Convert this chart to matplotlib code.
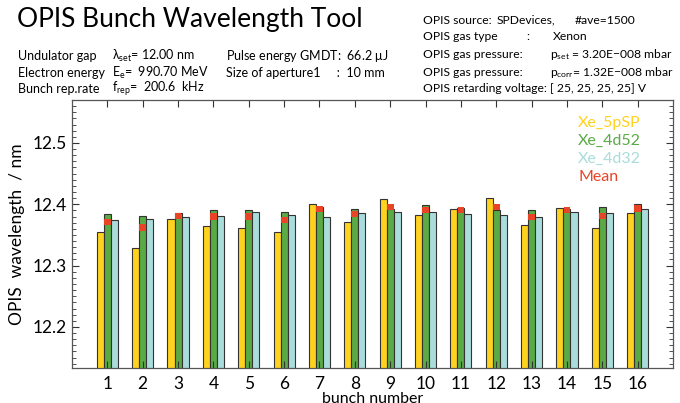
import matplotlib
matplotlib.use("Agg")
import matplotlib.pyplot as plt
from matplotlib.ticker import MultipleLocator
import numpy as np

plt.rcParams['font.family'] = ['Lato', 'DejaVu Sans']
plt.rcParams['mathtext.fontset'] = 'custom'
plt.rcParams['mathtext.rm'] = 'Lato'
plt.rcParams['mathtext.it'] = 'Lato'

bunches = list(range(1, 17))
xe_5psp = [12.355, 12.329, 12.376, 12.364, 12.361, 12.355, 12.400, 12.371,
           12.408, 12.383, 12.393, 12.411, 12.366, 12.394, 12.362, 12.385]
xe_4d52 = [12.384, 12.381, 12.385, 12.391, 12.390, 12.387, 12.395, 12.392,
           12.392, 12.398, 12.394, 12.390, 12.391, 12.392, 12.395, 12.400]
xe_4d32 = [12.374, 12.376, 12.380, 12.381, 12.387, 12.383, 12.380, 12.385,
           12.387, 12.387, 12.384, 12.382, 12.379, 12.387, 12.386, 12.392]
mean_vals = [12.371, 12.362, 12.381, 12.380, 12.380, 12.375, 12.392, 12.384,
             12.396, 12.390, 12.390, 12.395, 12.379, 12.391, 12.381, 12.393]

series_names = ['Xe_5pSP', 'Xe_4d52', 'Xe_4d32', 'Mean']
c_yellow = '#FFD21F'
c_green = '#5AAA45'
c_cyan = '#A9DCDB'
c_red = '#EA4426'

fig = plt.figure(figsize=(6.8, 4.03), dpi=100)
ax = fig.add_axes([72/680, 35/403, 601/680, 268/403])

x = np.array(bunches, dtype=float)
w = 0.2
base = 12.0
ec = '#333333'
ax.bar(x - w, np.array(xe_5psp) - base, w, bottom=base, color=c_yellow, edgecolor=ec, linewidth=0.8)
ax.bar(x, np.array(xe_4d52) - base, w, bottom=base, color=c_green, edgecolor=ec, linewidth=0.8)
ax.bar(x + w, np.array(xe_4d32) - base, w, bottom=base, color=c_cyan, edgecolor=ec, linewidth=0.8)
mh = 0.010
ax.bar(x, [mh]*len(x), w*0.95, bottom=np.array(mean_vals) - mh/2, color=c_red, linewidth=0)

ax.set_xlim(0, 17)
ax.set_ylim(12.133, 12.57)
ax.set_xticks(bunches)
ax.set_xticklabels([str(b) for b in bunches])
ax.yaxis.set_major_locator(MultipleLocator(0.1))
ax.yaxis.set_minor_locator(MultipleLocator(0.01))
ax.tick_params(axis='both', which='both', direction='in', top=True, right=True,
               labelsize=12.5, colors='#333333', labelcolor='black')
ax.tick_params(which='major', length=5, width=0.8)
ax.tick_params(which='minor', length=3, width=0.6)
ax.tick_params(axis='x', pad=6)
for s in ax.spines.values():
    s.set_color('#555555')
    s.set_linewidth(0.9)

ax.set_ylabel('OPIS  wavelength  / nm', fontsize=12.5, labelpad=6)
ax.set_xlabel('bunch number', fontsize=11.5, labelpad=0)

legend_colors = [c_yellow, c_green, c_cyan, c_red]
for i, (nm, col) in enumerate(zip(series_names, legend_colors)):
    fig.text(578/680, 1 - (123 + i*18)/403, nm, color=col, fontsize=11.5, va='center', ha='left')

fig.text(17/680, 1 - 20/403, 'OPIS Bunch Wavelength Tool', fontsize=19, va='center', ha='left')

fs = 9.0
rows_y = [56, 73, 89]
left_labels = ['Undulator gap', 'Electron energy', 'Bunch rep.rate']
left_vals = [r'$\lambda_{\rm set}$= 12.00 nm', r'E$_{\rm e}$=  990.70 MeV', r'f$_{\rm rep}$=  200.6  kHz']
for yy, lab, val in zip(rows_y, left_labels, left_vals):
    fig.text(18/680, 1 - yy/403, lab, fontsize=fs, va='center', ha='left')
    fig.text(112/680, 1 - yy/403, val, fontsize=fs, va='center', ha='left')
fig.text(226/680, 1 - 56/403, r'Pulse energy GMDT:  66.2 $\mu$J', fontsize=fs, va='center', ha='left')
fig.text(226/680, 1 - 73/403, 'Size of aperture1     :  10 mm', fontsize=fs, va='center', ha='left')

fr = 8.7
rx = 423/680
fig.text(rx, 1 - 20/403, 'OPIS source:', fontsize=fr, va='center', ha='left')
fig.text(497/680, 1 - 20/403, 'SPDevices,', fontsize=fr, va='center', ha='left')
fig.text(575/680, 1 - 20/403, '#ave=1500', fontsize=fr, va='center', ha='left')
fig.text(rx, 1 - 37/403, 'OPIS gas type', fontsize=fr, va='center', ha='left')
fig.text(526/680, 1 - 37/403, ':', fontsize=fr, va='center', ha='left')
fig.text(553/680, 1 - 37/403, 'Xenon', fontsize=fr, va='center', ha='left')
fig.text(rx, 1 - 55/403, 'OPIS gas pressure:', fontsize=fr, va='center', ha='left')
fig.text(550/680, 1 - 55/403, r'p$_{\rm set}$ = 3.20E$-$008 mbar', fontsize=fr, va='center', ha='left')
fig.text(rx, 1 - 72/403, 'OPIS gas pressure:', fontsize=fr, va='center', ha='left')
fig.text(550/680, 1 - 72/403, r'p$_{\rm corr}$= 1.32E$-$008 mbar', fontsize=fr, va='center', ha='left')
fig.text(rx, 1 - 89/403, 'OPIS retarding voltage: [ 25, 25, 25, 25] V', fontsize=fr, va='center', ha='left')

fig.savefig('out.png', dpi=100)
